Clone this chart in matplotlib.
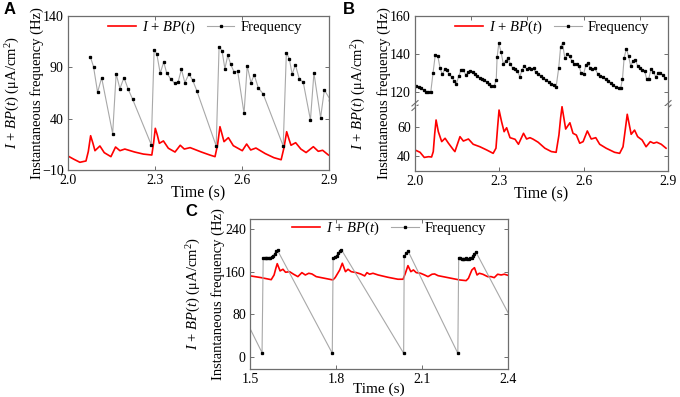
import matplotlib
matplotlib.use("Agg")
import matplotlib.pyplot as plt

plt.rcParams['font.family'] = ['Liberation Serif', 'DejaVu Serif']
plt.rcParams['mathtext.fontset'] = 'custom'
plt.rcParams['mathtext.rm'] = 'Liberation Serif'
plt.rcParams['mathtext.it'] = 'Liberation Serif:italic'
plt.rcParams['mathtext.bf'] = 'Liberation Serif:bold'

# ---- panel A data ----
a_freq_t = [2.077, 2.088, 2.102, 2.116, 2.154, 2.166, 2.179, 2.193, 2.207, 2.223,
            2.287, 2.297, 2.306, 2.318, 2.330, 2.340, 2.354, 2.368, 2.380, 2.391,
            2.403, 2.417, 2.430, 2.444,
            2.511, 2.521, 2.531, 2.541, 2.551, 2.561, 2.573, 2.585, 2.607, 2.618,
            2.631, 2.642, 2.656, 2.673,
            2.742, 2.753, 2.763, 2.773, 2.784, 2.798, 2.811, 2.836, 2.848, 2.871,
            2.884, 2.905]
a_freq_hz = [100.4, 90.6, 65.7, 79.9, 25.4, 83.8, 69.2, 80.0, 69.2, 58.8,
             14.7, 106.9, 103.3, 84.2, 95.2, 84.8, 78.6, 74.4, 76.0, 88.1,
             75.0, 83.5, 77.4, 67.3,
             13.4, 110.1, 106.2, 88.7, 101.7, 93.0, 85.2, 86.4, 45.2, 91.3,
             75.0, 82.8, 70.2, 64.0,
             13.4, 104.3, 98.4, 83.2, 92.6, 78.3, 75.7, 38.7, 84.5, 40.9,
             68.0, 58.0]
a_cur_t = [2.000, 2.020, 2.041, 2.062, 2.070, 2.078, 2.086, 2.093, 2.110, 2.125,
           2.148, 2.164, 2.179, 2.196, 2.230, 2.260, 2.289, 2.295, 2.301, 2.308,
           2.315, 2.329, 2.346, 2.369, 2.387, 2.401, 2.421, 2.460, 2.490, 2.507,
           2.516, 2.524, 2.531, 2.538, 2.553, 2.570, 2.601, 2.616, 2.630, 2.648,
           2.680, 2.710, 2.735, 2.745, 2.754, 2.762, 2.769, 2.785, 2.803, 2.821,
           2.846, 2.863, 2.878, 2.898]
a_cur = [3.6, 0.5, -2.5, -1.2, 8.0, 23.4, 16.0, 8.8, 13.4, 6.9,
         3.0, 12.4, 8.8, 10.4, 7.5, 5.5, 4.6, 16.0, 30.6, 24.0,
         16.0, 18.3, 11.2, 7.5, 14.1, 10.4, 11.8, 7.5, 4.5, 3.0,
         15.0, 32.2, 25.0, 17.6, 21.5, 13.7, 8.8, 15.3, 9.5, 11.4,
         6.0, 2.0, 0.0, 12.0, 27.3, 20.0, 14.1, 16.6, 10.4, 7.0,
         12.7, 8.2, 9.2, 4.6]

# ---- panel B data ----
b_freq_t = [2.002, 2.014, 2.022, 2.031, 2.039, 2.047, 2.056, 2.064, 2.072, 2.081,
            2.089, 2.097, 2.106, 2.114, 2.122, 2.131, 2.139, 2.147, 2.156, 2.164,
            2.172, 2.181, 2.189, 2.197, 2.206, 2.214, 2.222, 2.231, 2.239, 2.247,
            2.256, 2.264, 2.272, 2.281, 2.289, 2.292, 2.298, 2.306, 2.314, 2.323,
            2.331, 2.339, 2.348, 2.356, 2.364, 2.373, 2.381, 2.389, 2.398, 2.406,
            2.414, 2.423, 2.429, 2.438, 2.447, 2.457, 2.466, 2.476, 2.485, 2.494,
            2.502, 2.511, 2.518, 2.525, 2.533, 2.542, 2.550, 2.558, 2.566, 2.575,
            2.583, 2.591, 2.600, 2.608, 2.615, 2.623, 2.631, 2.640, 2.650, 2.659,
            2.669, 2.678, 2.687, 2.697, 2.706, 2.715, 2.725, 2.732, 2.738, 2.744,
            2.752, 2.760, 2.767, 2.776, 2.784, 2.792, 2.801, 2.809, 2.817, 2.824,
            2.831, 2.840, 2.848, 2.857, 2.865, 2.873, 2.882, 2.890]
b_freq_hz = [123.2, 122.5, 121.8, 120.9, 120.0, 119.7, 119.7, 129.7, 139.3, 138.9,
             132.6, 129.1, 131.9, 131.2, 129.1, 127.6, 125.8, 124.2, 128.3, 131.6,
             131.2, 128.9, 130.2, 131.0, 130.2, 129.1, 128.1, 127.4, 126.7, 126.0,
             125.1, 124.2, 123.0, 122.8, 126.2, 138.1, 145.5, 141.1, 134.7, 136.3,
             137.9, 134.7, 132.3, 131.8, 130.9, 127.9, 131.6, 133.7, 131.8, 132.5,
             131.8, 132.3, 130.2, 129.1, 128.4, 127.4, 126.0, 125.1, 124.2, 123.5,
             122.6, 132.3, 143.7, 145.5, 137.6, 139.7, 138.9, 136.2, 134.7, 134.4,
             133.7, 129.8, 129.5, 134.1, 135.3, 132.6, 131.9, 132.3, 129.5, 128.4,
             127.6, 126.5, 125.6, 124.6, 123.4, 122.3, 122.1, 122.1, 126.7, 137.9,
             142.8, 138.6, 133.7, 136.2, 136.7, 133.7, 132.6, 131.6, 130.9, 126.7,
             126.7, 131.9, 130.5, 127.7, 130.0, 129.8, 128.8, 127.0]
b_cur_t = [2.000, 2.018, 2.033, 2.048, 2.059, 2.065, 2.070, 2.075, 2.083, 2.095,
           2.107, 2.119, 2.137, 2.142, 2.160, 2.172, 2.190, 2.207, 2.231, 2.255,
           2.278, 2.288, 2.294, 2.299, 2.308, 2.317, 2.326, 2.338, 2.356, 2.368,
           2.386, 2.397, 2.409, 2.420, 2.438, 2.462, 2.485, 2.502, 2.512, 2.518,
           2.523, 2.536, 2.551, 2.562, 2.574, 2.586, 2.598, 2.613, 2.627, 2.643,
           2.657, 2.680, 2.710, 2.728, 2.740, 2.748, 2.755, 2.769, 2.781, 2.792,
           2.808, 2.822, 2.837, 2.849, 2.860, 2.876, 2.893]
b_cur = [44.1, 42.5, 39.0, 39.5, 39.3, 43.0, 55.0, 64.6, 56.6, 49.8,
         52.1, 48.7, 44.1, 43.0, 53.2, 50.2, 51.6, 48.0, 46.3, 44.1,
         41.8, 45.3, 60.0, 71.4, 63.4, 56.6, 59.3, 52.5, 51.4, 48.0,
         55.5, 51.6, 52.5, 51.5, 49.4, 45.3, 43.0, 42.5, 54.3, 66.0,
         73.7, 58.4, 62.7, 55.5, 54.3, 48.7, 49.8, 57.1, 51.6, 52.5,
         48.0, 45.3, 42.5, 41.8, 46.3, 58.0, 68.5, 54.8, 57.7, 53.2,
         50.9, 46.3, 49.8, 48.7, 49.4, 48.0, 45.3]

# ---- panel C data ----
c_freq_t = [1.365, 1.542,
            1.546, 1.551, 1.556, 1.561, 1.566, 1.571, 1.576, 1.581, 1.586, 1.591, 1.596,
            1.787,
            1.790, 1.796, 1.802, 1.808, 1.813, 1.819,
            2.036,
            2.038, 2.044, 2.051,
            2.225,
            2.228, 2.233, 2.238, 2.243, 2.248, 2.253, 2.258, 2.263, 2.268, 2.273,
            2.278, 2.283, 2.288,
            2.475]
c_freq_hz = [200, 8,
             186, 186, 186, 185, 185, 186, 187, 190, 194, 198, 200,
             7,
             185, 187, 190, 195, 199, 201,
             7,
             189, 195, 199,
             7,
             185, 185, 184, 183, 184, 185, 183, 184, 185, 186,
             190, 194, 197,
             7]
c_cur_t = [1.502, 1.539, 1.574, 1.584, 1.590, 1.595, 1.605, 1.615, 1.624, 1.638,
           1.652, 1.667, 1.681, 1.693, 1.705, 1.716, 1.731, 1.760, 1.789, 1.797,
           1.813, 1.822, 1.833, 1.842, 1.853, 1.871, 1.886, 1.900, 1.908, 1.917,
           1.929, 1.947, 1.981, 2.016, 2.034, 2.042, 2.051, 2.061, 2.070, 2.080,
           2.095, 2.109, 2.121, 2.135, 2.144, 2.156, 2.173, 2.202, 2.231, 2.254,
           2.262, 2.274, 2.283, 2.292, 2.300, 2.312, 2.329, 2.341, 2.352, 2.364,
           2.376, 2.387, 2.399]
c_cur = [152.0, 148.8, 145.0, 153.8, 166.0, 175.0, 161.4, 164.5, 158.9, 160.0,
         155.2, 150.7, 158.2, 153.8, 157.0, 155.7, 150.7, 147.6, 144.5, 148.8,
         163.2, 175.8, 160.0, 164.5, 160.0, 158.2, 155.7, 152.0, 158.2, 155.2,
         157.0, 153.8, 149.5, 145.8, 145.8, 157.0, 171.3, 160.0, 163.2, 158.2,
         157.0, 153.8, 150.7, 155.2, 155.7, 152.5, 150.7, 147.6, 144.5, 143.2,
         147.6, 163.2, 167.5, 153.8, 157.0, 155.2, 150.7, 150.7, 148.8, 155.2,
         153.8, 155.2, 153.3]

cur_label = r'$I$ + $BP$($t$)'
ylab_in = 'Instantaneous frequency (Hz)'
ylab_out = r'$I$ + $BP$($t$) (μA/cm$^2$)'
frame_col = '#6e6e6e'

W, H = 680.0, 397.0


def box(l, t, r, b):
    return [l / W, 1 - b / H, (r - l) / W, (b - t) / H]


def style_axes(ax):
    for s in ax.spines.values():
        s.set_color(frame_col)
        s.set_linewidth(0.9)
    ax.tick_params(direction='in', length=3, width=0.7, color=frame_col,
                   top=True, right=True, labelsize=10, pad=3)


def draw_freq(ax, t, f):
    return ax.plot(t, f, color='#a8a8a8', lw=0.8, marker='s', ms=1.4,
                   mfc='black', mec='black', label='Frequency')[0]


def draw_cur(ax, t, v):
    return ax.plot(t, v, color='red', lw=1.2, label=cur_label)[0]


def add_legend(ax, handles, x, y):
    ax.legend(handles=handles, loc='center right', bbox_to_anchor=(x, y),
              ncol=2, frameon=False, fontsize=10.5, numpoints=1,
              handlelength=1.9, handletextpad=0.4, columnspacing=0.8,
              borderpad=0.2)


def side_labels(fig, rect, xin, xout):
    yc = rect[1] + rect[3] / 2
    fig.text(xin / W, yc, ylab_in, rotation=90, ha='center', va='center',
             fontsize=10.5)
    fig.text(xout / W, yc, ylab_out, rotation=90, ha='center', va='center',
             fontsize=10.5)


def panel_letter(fig, x, y, s):
    fig.text(x / W, 1 - y / H, s, fontsize=12, fontweight='bold',
             family='Liberation Sans', ha='center', va='center')


fig = plt.figure(figsize=(6.8, 3.97), dpi=100)

# Panel A
rectA = box(68, 16, 329, 170)
axA = fig.add_axes(rectA)
hc = draw_cur(axA, a_cur_t, a_cur)
hf = draw_freq(axA, a_freq_t, a_freq_hz)
axA.set_xlim(2.0, 2.9)
axA.set_ylim(-10, 140)
axA.set_xticks([2.0, 2.3, 2.6, 2.9])
axA.set_yticks([-10, 40, 90, 140])
style_axes(axA)
axA.set_xlabel('Time (s)', fontsize=11.5, labelpad=-1)
add_legend(axA, [hc, hf], 0.935, 0.925)
side_labels(fig, rectA, 37, 13)
panel_letter(fig, 9.5, 9.5, 'A')

# Panel B (broken y axis)
brk = 105.5
rectB = box(415, 16, 668, 170.6)
axBt = fig.add_axes(box(415, 16, 668, brk))
axBb = fig.add_axes(box(415, brk, 668, 170.6))
hfB = draw_freq(axBt, b_freq_t, b_freq_hz)
hcB = draw_cur(axBb, b_cur_t, b_cur)
axBt.set_xlim(2.0, 2.9)
axBb.set_xlim(2.0, 2.9)
axBt.set_ylim(112.7, 160)
axBb.set_ylim(30, 74.5)
axBt.set_yticks([120, 140, 160])
axBb.set_yticks([40, 60])
axBb.set_xticks([2.0, 2.3, 2.6, 2.9])
style_axes(axBt)
style_axes(axBb)
axBt.spines['bottom'].set_visible(False)
axBb.spines['top'].set_visible(False)
axBt.tick_params(bottom=False, labelbottom=False)
axBb.tick_params(top=False)
axBb.set_xlabel('Time (s)', fontsize=11.5, labelpad=-1)
add_legend(axBt, [hcB, hfB], 0.965, 0.875)
# break marks on both side spines
for xa in (0, 1):
    for dy in (-0.025, 0.025):
        axBt.plot([xa - 0.012, xa + 0.012], [dy - 0.03, dy + 0.03],
                  transform=axBt.transAxes, color=frame_col, lw=0.8,
                  clip_on=False)
side_labels(fig, rectB, 384, 359)
panel_letter(fig, 349, 9.5, 'B')

# Panel C
rectC = box(250, 219, 508, 369)
axC = fig.add_axes(rectC)
hcC = draw_cur(axC, c_cur_t, c_cur)
hfC = draw_freq(axC, c_freq_t, c_freq_hz)
axC.set_xlim(1.5, 2.4)
axC.set_ylim(-22.5, 258.75)
axC.set_xticks([1.5, 1.8, 2.1, 2.4])
axC.set_yticks([0, 80, 160, 240])
style_axes(axC)
axC.set_xlabel('Time (s)', fontsize=11, labelpad=-2.5)
add_legend(axC, [hcC, hfC], 0.955, 0.935)
side_labels(fig, rectC, 218, 194)
panel_letter(fig, 191.5, 211.5, 'C')

fig.savefig('out.png', dpi=100)
